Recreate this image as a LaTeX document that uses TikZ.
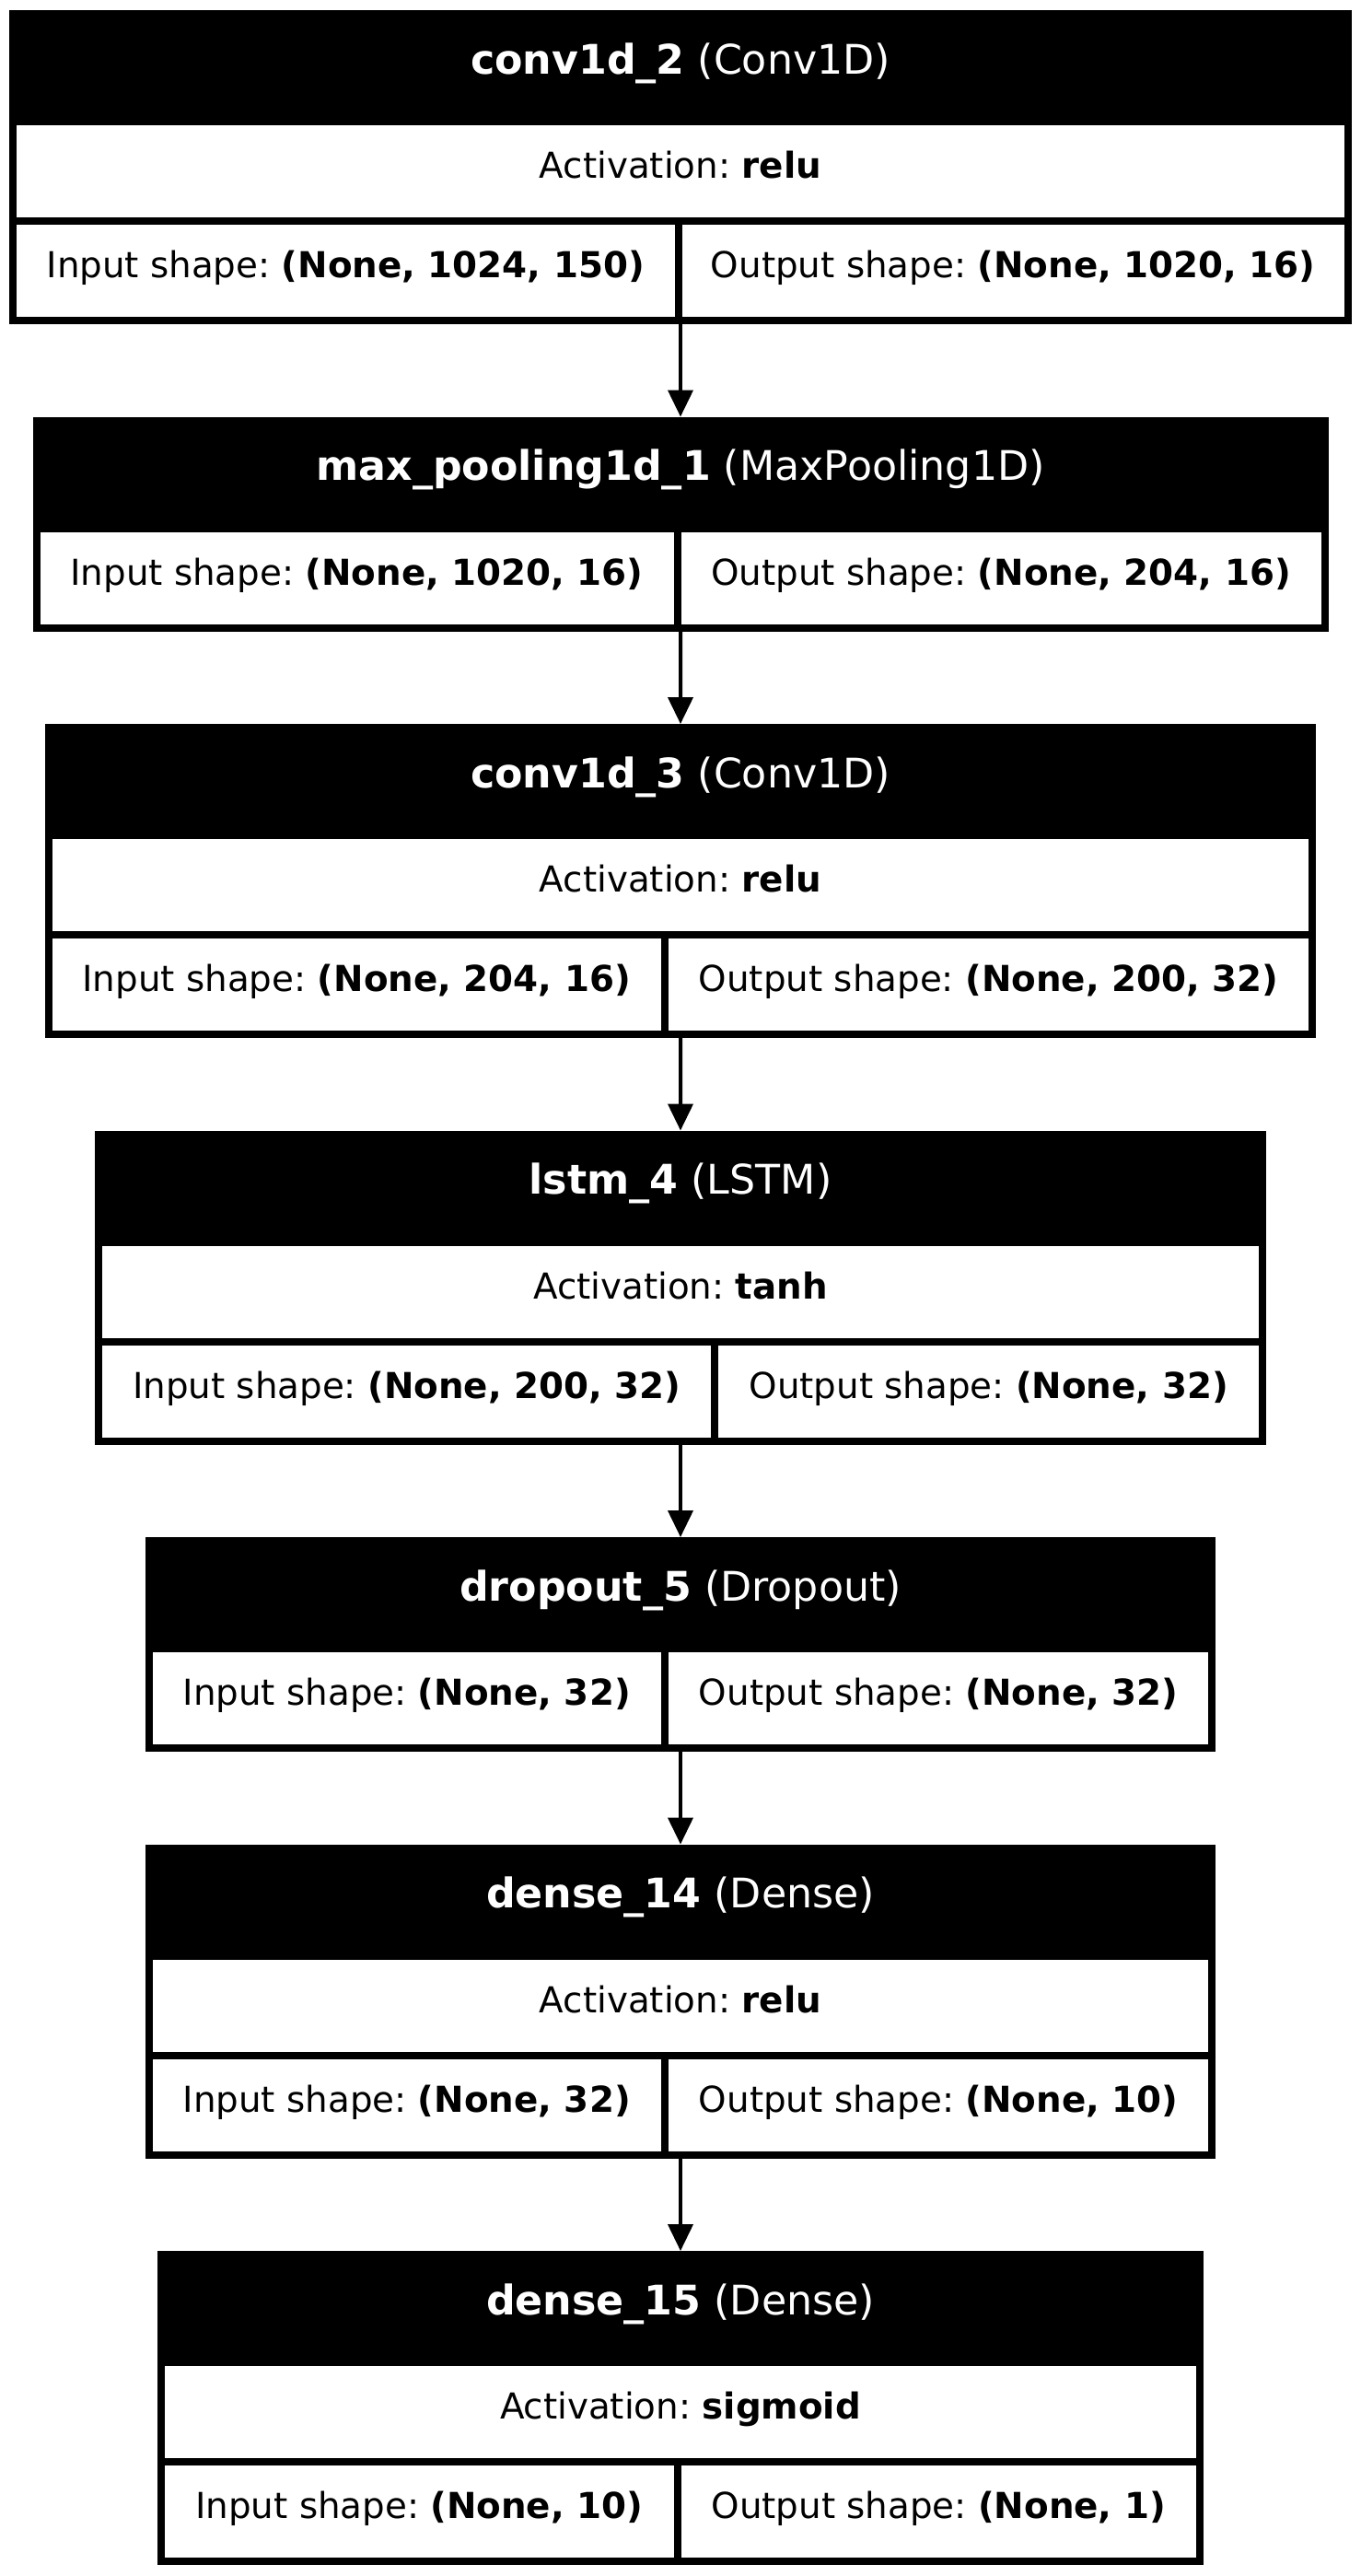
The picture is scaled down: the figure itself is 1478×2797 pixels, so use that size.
\documentclass[tikz,border=0pt]{standalone}
\usepackage{fontspec}
\setmainfont{DejaVu Sans}
\usetikzlibrary{arrows.meta}
\frenchspacing
\newcommand\hdfont{\fontsize{22.15pt}{26pt}\selectfont}
\newcommand\bdfont{\fontsize{19.4pt}{23pt}\selectfont}
\tikzset{
  frame/.style={fill=black, draw=none, inner sep=0pt, outer sep=0pt, anchor=north west},
  cellbox/.style={fill=white, draw=none, inner sep=0pt, outer sep=0pt, anchor=north west, minimum height=50pt},
  htext/.style={text=white, font=\hdfont, anchor=base, inner sep=0pt},
  btext/.style={text=black, font=\bdfont, anchor=base, inner sep=0pt},
  arr/.style={line width=2pt, -{Triangle[width=13.5pt,length=14.5pt]}}
}
% #1 id, #2 top, #3 left, #4 divider centre, #5 name, #6 type, #7 activation, #8 input, #9 output
\newcommand\mkblockA[9]{%
  \pgfmathsetmacro\bR{1478-#3}%
  \pgfmathsetmacro\bW{(\bR-#3)/2}%
  \pgfmathsetmacro\bAW{(\bR-#3-16)/2}%
  \pgfmathsetmacro\bIW{(#4-4-#3-8)/2}%
  \pgfmathsetmacro\bOW{(\bR-8-#4-4)/2}%
  \pgfmathsetmacro\bIC{(#4-4+#3+8)/2}%
  \pgfmathsetmacro\bOC{(#4+4+\bR-8)/2}%
  \node[frame, minimum width=\bW pt, minimum height=170.5pt] (#1) at (#3,#2) {};
  \node[htext] (#1h) at (739,{#2+69}) {\textbf{#5} (#6)};
  \node[cellbox, minimum width=\bAW pt] (#1a) at ({#3+8},{#2+125}) {};
  \node[btext] (#1at) at (739,{#2+182.5}) {Activation: \textbf{#7}};
  \node[cellbox, minimum width=\bIW pt] (#1i) at ({#3+8},{#2+233}) {};
  \node[cellbox, minimum width=\bOW pt] (#1o) at ({#4+4},{#2+233}) {};
  \node[btext] (#1it) at (\bIC,{#2+290.5}) {Input shape: \textbf{#8}};
  \node[btext] (#1ot) at (\bOC,{#2+290.5}) {Output shape: \textbf{#9}};
}
% #1 id, #2 top, #3 left, #4 divider centre, #5 name, #6 type, #7 input, #8 output
\newcommand\mkblockB[8]{%
  \pgfmathsetmacro\bR{1478-#3}%
  \pgfmathsetmacro\bW{(\bR-#3)/2}%
  \pgfmathsetmacro\bIW{(#4-4-#3-8)/2}%
  \pgfmathsetmacro\bOW{(\bR-8-#4-4)/2}%
  \pgfmathsetmacro\bIC{(#4-4+#3+8)/2}%
  \pgfmathsetmacro\bOC{(#4+4+\bR-8)/2}%
  \node[frame, minimum width=\bW pt, minimum height=116.5pt] (#1) at (#3,#2) {};
  \node[htext] (#1h) at (739,{#2+69}) {\textbf{#5} (#6)};
  \node[cellbox, minimum width=\bIW pt] (#1i) at ({#3+8},{#2+125}) {};
  \node[cellbox, minimum width=\bOW pt] (#1o) at ({#4+4},{#2+125}) {};
  \node[btext] (#1it) at (\bIC,{#2+182.5}) {Input shape: \textbf{#7}};
  \node[btext] (#1ot) at (\bOC,{#2+182.5}) {Output shape: \textbf{#8}};
}
\begin{document}
\begin{tikzpicture}[x=0.5pt,y=-0.5pt]
\useasboundingbox[fill=white] (0,0) rectangle (1478,2797);
\mkblockA{b1}{11}{10}{736.5}{conv1d\_2}{Conv1D}{relu}{(None, 1024, 150)}{(None, 1020, 16)}
\mkblockB{b2}{452.5}{35.5}{735.5}{max\_pooling1d\_1}{MaxPooling1D}{(None, 1020, 16)}{(None, 204, 16)}
\mkblockA{b3}{786}{48.7}{721.7}{conv1d\_3}{Conv1D}{relu}{(None, 204, 16)}{(None, 200, 32)}
\mkblockA{b4}{1227.5}{103}{776.4}{lstm\_4}{LSTM}{tanh}{(None, 200, 32)}{(None, 32)}
\mkblockB{b5}{1669}{157.6}{721.8}{dropout\_5}{Dropout}{(None, 32)}{(None, 32)}
\mkblockA{b6}{2002.5}{157.6}{721.8}{dense\_14}{Dense}{relu}{(None, 32)}{(None, 10)}
\mkblockA{b7}{2444}{171}{735.5}{dense\_15}{Dense}{sigmoid}{(None, 10)}{(None, 1)}
\draw[arr] (b1.south) -- (b2.north);
\draw[arr] (b2.south) -- (b3.north);
\draw[arr] (b3.south) -- (b4.north);
\draw[arr] (b4.south) -- (b5.north);
\draw[arr] (b5.south) -- (b6.north);
\draw[arr] (b6.south) -- (b7.north);
\end{tikzpicture}
\end{document}
